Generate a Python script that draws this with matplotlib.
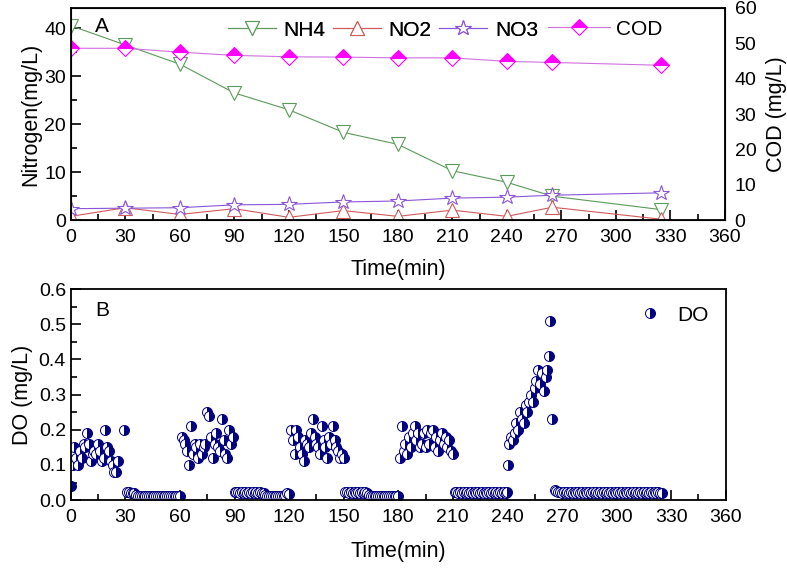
import matplotlib
matplotlib.use("Agg")
import matplotlib.pyplot as plt
from matplotlib.ticker import MultipleLocator

plt.rcParams["font.family"] = ["Liberation Sans", "DejaVu Sans"]

# --- panel A: nitrogen species and COD ---
time_a = [0, 30, 60, 90, 120, 150, 180, 210, 240, 265, 325]
nh4 = [40.5, 36.5, 32.5, 26.5, 23.0, 18.3, 15.8, 10.3, 7.9, 5.0, 2.2]
no2 = [0.8, 2.6, 1.2, 2.4, 0.6, 2.0, 0.8, 2.1, 0.8, 2.7, 0.2]
no3 = [2.4, 2.5, 2.6, 3.2, 3.3, 3.8, 4.0, 4.6, 4.8, 5.2, 5.7]
cod = [48.6, 48.6, 47.5, 46.6, 46.2, 46.1, 45.9, 45.9, 44.9, 44.6, 43.8]

# --- panel B: dissolved oxygen ---
do_t = (
    [0, 1, 2, 3, 4, 5, 6, 7, 8, 9, 10, 11, 12, 13, 14, 15, 16, 17, 18, 19,
     20, 21, 22, 23, 24, 25, 26, 29]
    + list(range(31, 61))
    + list(range(61, 90))
    + list(range(90, 121))
    + list(range(121, 151))
    + list(range(151, 181))
    + list(range(181, 211))
    + list(range(211, 241))
    + [240.5, 241, 242, 243, 244, 245, 246, 247, 248, 249, 250, 251, 252,
       253, 254, 255, 256, 257, 258, 259, 260, 261, 262, 263, 263.5, 264.5]
    + list(range(266, 326))
)
do_v = (
    [0.04, 0.10, 0.15, 0.12, 0.10, 0.14, 0.12, 0.16, 0.15, 0.19, 0.16, 0.11,
     0.13, 0.14, 0.13, 0.16, 0.14, 0.11, 0.12, 0.20, 0.15, 0.14, 0.11, 0.10,
     0.08, 0.08, 0.11, 0.20]
    + [0.022, 0.022, 0.021, 0.021, 0.02, 0.016, 0.013, 0.012, 0.012, 0.012,
       0.012, 0.012, 0.012, 0.012, 0.012, 0.012, 0.012, 0.012, 0.012, 0.012,
       0.012, 0.012, 0.012, 0.012, 0.012, 0.012, 0.012, 0.012, 0.012, 0.012]
    + [0.18, 0.17, 0.16, 0.14, 0.10, 0.21, 0.13, 0.16, 0.15, 0.12, 0.16, 0.13,
       0.15, 0.16, 0.25, 0.24, 0.18, 0.12, 0.16, 0.19, 0.15, 0.14, 0.23, 0.17,
       0.13, 0.12, 0.20, 0.16, 0.18]
    + [0.022, 0.022, 0.022, 0.021, 0.022, 0.021, 0.022, 0.021, 0.022, 0.021,
       0.022, 0.021, 0.022, 0.021, 0.022, 0.021, 0.02, 0.016, 0.013, 0.012,
       0.012, 0.012, 0.012, 0.012, 0.012, 0.012, 0.012, 0.012, 0.015, 0.02,
       0.018]
    + [0.20, 0.17, 0.13, 0.20, 0.18, 0.15, 0.13, 0.11, 0.17, 0.16, 0.15, 0.19,
       0.23, 0.18, 0.16, 0.15, 0.13, 0.21, 0.17, 0.15, 0.12, 0.18, 0.16, 0.21,
       0.17, 0.15, 0.14, 0.12, 0.13, 0.12]
    + [0.022, 0.022, 0.021, 0.022, 0.021, 0.022, 0.021, 0.022, 0.021, 0.022,
       0.021, 0.022, 0.02, 0.016, 0.013, 0.012, 0.012, 0.012, 0.012, 0.012,
       0.012, 0.012, 0.012, 0.012, 0.012, 0.012, 0.012, 0.012, 0.012, 0.012]
    + [0.12, 0.21, 0.14, 0.16, 0.13, 0.18, 0.15, 0.19, 0.21, 0.17, 0.19, 0.15,
       0.16, 0.19, 0.15, 0.20, 0.16, 0.19, 0.20, 0.15, 0.18, 0.14, 0.17, 0.19,
       0.16, 0.18, 0.15, 0.17, 0.14, 0.13]
    + [0.022, 0.022, 0.021, 0.022, 0.021, 0.022, 0.021, 0.022, 0.021, 0.022,
       0.021, 0.022, 0.021, 0.022, 0.021, 0.022, 0.021, 0.022, 0.021, 0.022,
       0.021, 0.022, 0.021, 0.022, 0.021, 0.022, 0.021, 0.022, 0.021, 0.022]
    + [0.10, 0.16, 0.18, 0.17, 0.19, 0.22, 0.20, 0.25, 0.23, 0.22, 0.27, 0.25,
       0.28, 0.30, 0.28, 0.32, 0.34, 0.37, 0.33, 0.36, 0.31, 0.35, 0.37, 0.41,
       0.51, 0.23]
    + [0.03, 0.025, 0.022, 0.022, 0.021, 0.022, 0.021, 0.022, 0.021, 0.022,
       0.021, 0.022, 0.021, 0.022, 0.021, 0.022, 0.021, 0.022, 0.021, 0.022,
       0.021, 0.022, 0.021, 0.022, 0.021, 0.022, 0.021, 0.022, 0.021, 0.022,
       0.021, 0.022, 0.021, 0.022, 0.021, 0.022, 0.021, 0.022, 0.021, 0.022,
       0.021, 0.022, 0.021, 0.022, 0.021, 0.022, 0.021, 0.022, 0.021, 0.022,
       0.021, 0.022, 0.021, 0.022, 0.021, 0.022, 0.021, 0.022, 0.021, 0.02]
)

x_ticks = [0, 30, 60, 90, 120, 150, 180, 210, 240, 270, 300, 330, 360]

fig = plt.figure(figsize=(7.87, 5.69), dpi=100)
ax1 = fig.add_axes([0.090, 0.613, 0.831, 0.373])
ax2 = fig.add_axes([0.090, 0.121, 0.832, 0.371])


def style_axis(ax):
    ax.set_xlim(0, 360)
    ax.set_xticks(x_ticks)
    ax.xaxis.set_minor_locator(MultipleLocator(15))
    ax.tick_params(which="both", direction="in", labelsize=14, width=1.2)
    ax.tick_params(which="major", length=7)
    ax.tick_params(which="minor", length=4)
    ax.tick_params(axis="x", pad=6.5)
    for s in ax.spines.values():
        s.set_linewidth(1.3)


style_axis(ax1)
ax1.set_ylim(0, 44.2)
ax1.yaxis.set_major_locator(MultipleLocator(10))
ax1.yaxis.set_minor_locator(MultipleLocator(5))
l1, = ax1.plot(time_a, nh4, color="#5a9a5a", lw=0.8, marker="v", ms=9.5,
               mfc="white", mec="#5a9a5a", mew=0.8, label="NH4")
l2, = ax1.plot(time_a, no2, color="#d05a5a", lw=0.8, marker="^", ms=9.5,
               mfc="white", mec="#d05a5a", mew=0.8, label="NO2")
l3, = ax1.plot(time_a, no3, color="#8a55d8", lw=0.8, marker="*", ms=11.5,
               mfc="white", mec="#8a55d8", mew=0.8, label="NO3")
ax1.set_ylabel("Nitrogen(mg/L)", fontsize=15.5, labelpad=2)
ax1.set_xlabel("Time(min)", fontsize=15.5, labelpad=9)
ax1.text(0.037, 0.915, "A", transform=ax1.transAxes, fontsize=15, va="center")

ax1r = ax1.twinx()
ax1r.set_ylim(0, 60)
ax1r.yaxis.set_major_locator(MultipleLocator(10))
ax1r.tick_params(direction="in", labelsize=14, length=0, pad=7)
l4, = ax1r.plot(time_a, cod, color="#d070e0", lw=0.8, marker="D", ms=8.5,
                mfc="#ff00ff", mfcalt="white", fillstyle="top",
                mec="#ff00ff", mew=0.8, label="COD")
ax1r.set_ylabel("COD (mg/L)", fontsize=15.5, labelpad=7)

leg1 = ax1.legend(handles=[l1, l2, l3], loc="center left",
                  bbox_to_anchor=(0.240, 0.896), ncol=3, frameon=False,
                  fontsize=15, handlelength=2.3, columnspacing=0.35,
                  handletextpad=0.38, borderaxespad=0, borderpad=0)
ax1.add_artist(leg1)
ax1r.legend(handles=[l4], loc="center left", bbox_to_anchor=(0.729, 0.9),
            frameon=False, fontsize=15, handlelength=3.0, handletextpad=0.3,
            borderaxespad=0, borderpad=0)

style_axis(ax2)
ax2.set_ylim(0, 0.6)
ax2.yaxis.set_major_locator(MultipleLocator(0.1))
ax2.yaxis.set_minor_locator(MultipleLocator(0.05))
ax2.yaxis.set_major_formatter(plt.FormatStrFormatter("%.1f"))
ax2.plot(do_t, do_v, linestyle="none", marker="o", ms=7.2,
         mfc="#000080", mfcalt="white", fillstyle="right",
         mec="#000080", mew=0.7, label="DO")
ax2.set_ylabel("DO (mg/L)", fontsize=15.5, labelpad=4)
ax2.set_xlabel("Time(min)", fontsize=15.5, labelpad=11)
ax2.text(0.037, 0.9, "B", transform=ax2.transAxes, fontsize=15, va="center")
ax2.legend(loc="upper right", frameon=False, fontsize=15,
           handlelength=1.2, handletextpad=0.7, borderaxespad=0.4)

fig.savefig("out.png", dpi=100)
